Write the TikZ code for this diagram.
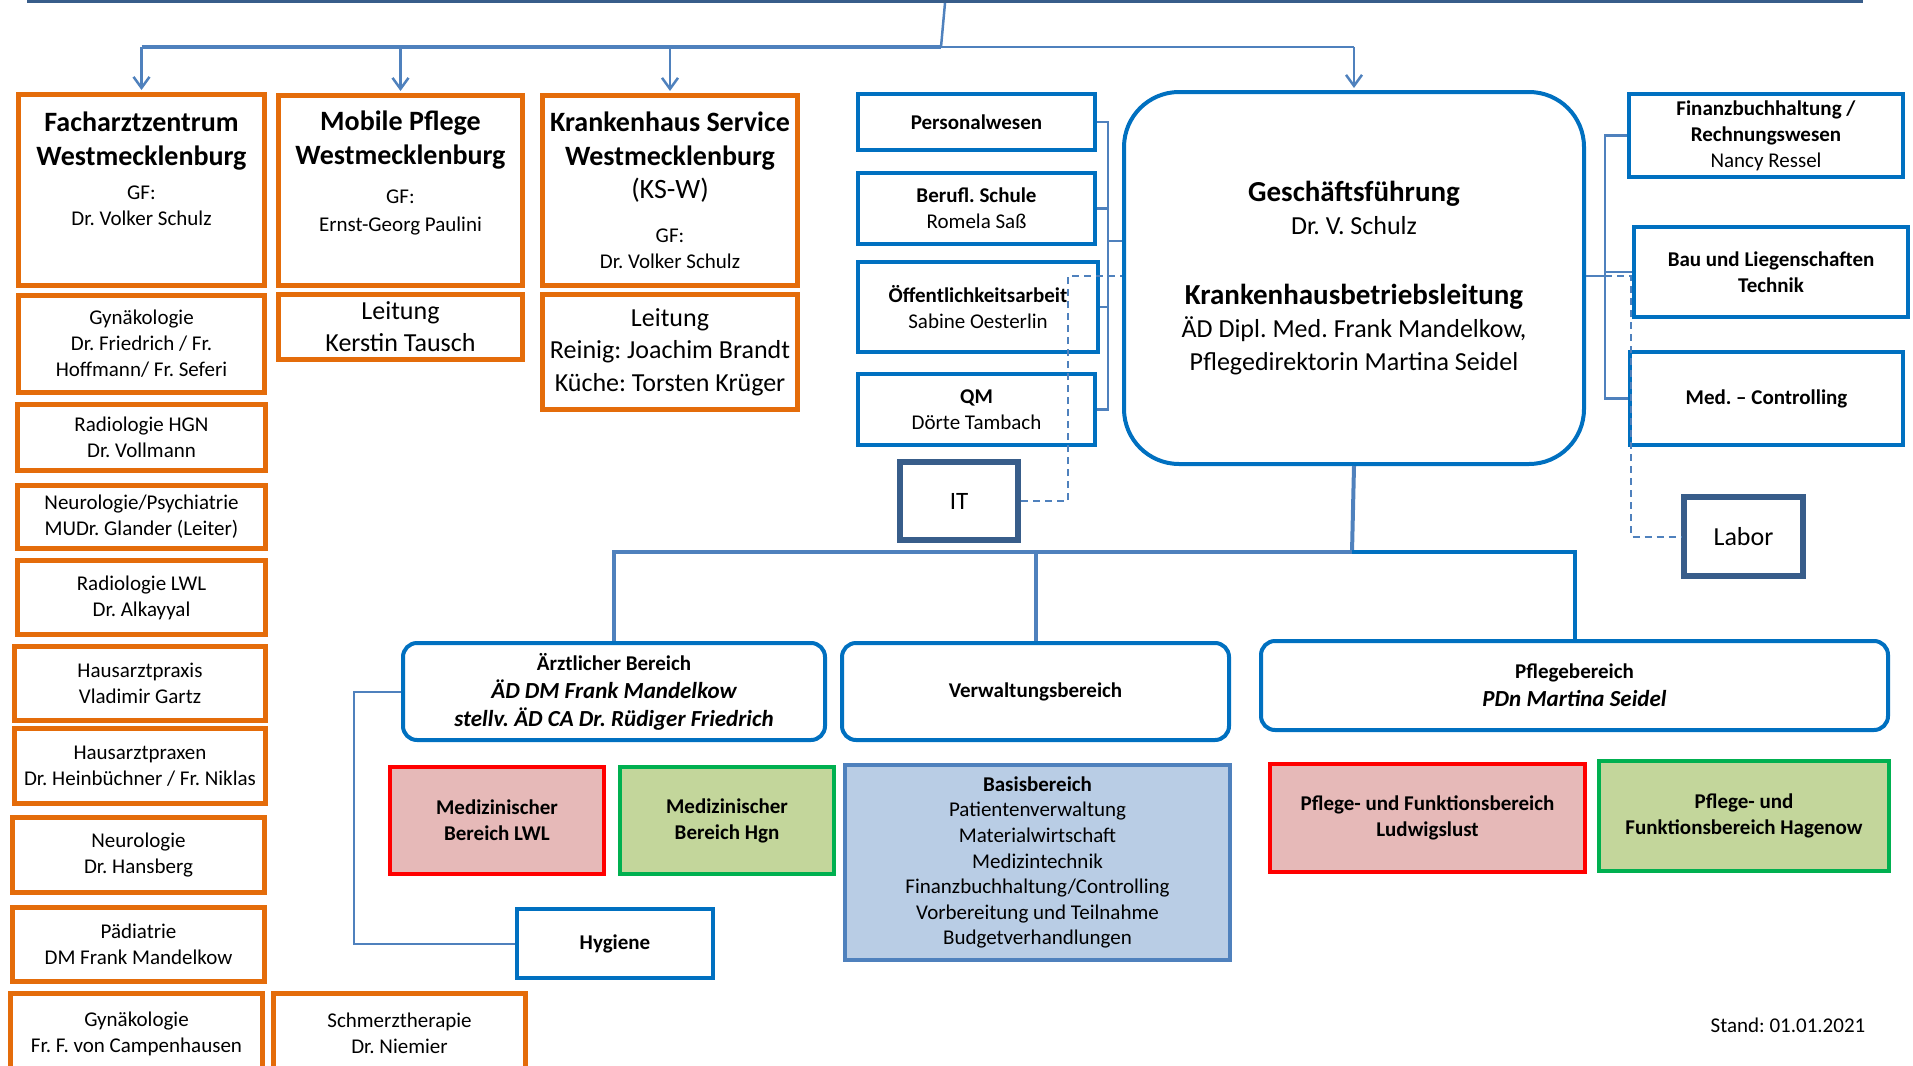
\documentclass[tikz,border=0pt]{standalone}
\usepackage{fontspec}
\setmainfont{Carlito}
\usepackage{tikz}
\usetikzlibrary{arrows.meta, positioning}
\definecolor{orgline}{HTML}{E46C0A}
\definecolor{boxblue}{HTML}{0070C0}
\definecolor{darkblue}{HTML}{385D8A}
\definecolor{linkblue}{HTML}{4F81BD}
\definecolor{redfill}{HTML}{E6B9B8}
\definecolor{greenline}{HTML}{00B050}
\definecolor{greenfill}{HTML}{C3D69B}
\definecolor{basisfill}{HTML}{B9CDE5}
\newcommand{\setpx}[2]{\fontsize{#1}{#2}\selectfont}
\frenchspacing

\begin{document}
\begin{tikzpicture}[x=1pt, y=-1pt, >={Straight Barb[length=11pt,width=16pt]},
  cell/.style={rectangle, anchor=north west, align=center, fill=white, inner sep=1pt, text=black},
  orgbox/.style={cell, draw=orgline, line width=5pt, font=\setpx{21}{26}},
  bluebox/.style={cell, draw=boxblue, line width=4pt, font=\setpx{21}{26}},
  darkbox/.style={cell, draw=darkblue, line width=6pt, font=\setpx{25}{30}},
  roundbox/.style={cell, draw=boxblue, line width=4pt, rounded corners=14pt, font=\setpx{21}{28}},
  redbox/.style={cell, draw=red, fill=redfill, line width=4pt, font=\setpx{21}{26}\bfseries},
  greenbox/.style={cell, draw=greenline, fill=greenfill, line width=4pt, font=\setpx{21}{26}\bfseries},
  link/.style={draw=linkblue, line width=2.5pt},
  dashlink/.style={link, line width=2pt, dash pattern=on 7pt off 5pt}]
\useasboundingbox (0,0) rectangle (1913,1065);

\node[draw=darkblue, line width=8pt, minimum width=1828pt, minimum height=40pt, anchor=south west] (top) at (27,3) {};

\node[orgbox, minimum width=246pt, minimum height=191pt] (fz) at (16,92) {{\setpx{28}{34}\bfseries Facharztzentrum}\\[8pt]{\setpx{28}{34}\bfseries Westmecklenburg}\\[8pt]GF:\\Dr. Volker Schulz\\[16pt]~};
\node[orgbox, minimum width=244pt, minimum height=190pt] (mp) at (276,93) {{\setpx{28}{34}\bfseries Mobile Pflege}\\[8pt]{\setpx{28}{34}\bfseries Westmecklenburg}\\[13pt]GF:\\[2pt]Ernst-Georg Paulini\\[12pt]~};
\node[orgbox, minimum width=255pt, minimum height=190pt] (ks) at (540,93) {{\setpx{28}{34}\bfseries Krankenhaus Service}\\[8pt]{\setpx{28}{34}\bfseries Westmecklenburg}\\[7pt]{\setpx{28}{34}(KS-W)}\\[18pt]GF:\\Dr. Volker Schulz};
\node[orgbox, font=\setpx{26}{32}, minimum width=244pt, minimum height=65pt] (mpl) at (276,292) {Leitung\\Kerstin Tausch};
\node[orgbox, font=\setpx{26}{32.5}, inner sep=0pt, minimum width=255pt, minimum height=115pt] (ksl) at (540,292) {Leitung\\Reinig: Joachim Brandt\\Küche: Torsten Krüger};

\node[orgbox, minimum width=246pt, minimum height=97pt] (gyn) at (16,293) {Gynäkologie\\Dr. Friedrich / Fr.\\Hoffmann/ Fr. Seferi};
\node[orgbox, minimum width=248pt, minimum height=66pt] (radh) at (15,402) {Radiologie HGN\\Dr. Vollmann};
\node[orgbox, minimum width=248pt, minimum height=63pt] (neur) at (15,483) {Neurologie/Psychiatrie\\MUDr. Glander (Leiter)};
\node[orgbox, minimum width=248pt, minimum height=74pt] (radl) at (15,558) {Radiologie LWL\\Dr. Alkayyal};
\node[orgbox, minimum width=251pt, minimum height=74pt] (hp) at (12,644) {Hausarztpraxis\\Vladimir Gartz};
\node[orgbox, minimum width=251pt, minimum height=75pt] (hps) at (12,726) {Hausarztpraxen\\Dr. Heinbüchner / Fr. Niklas};
\node[orgbox, minimum width=252pt, minimum height=75pt] (neu) at (10,815) {Neurologie\\Dr. Hansberg};
\node[orgbox, minimum width=252pt, minimum height=74pt] (paed) at (10,905) {Pädiatrie\\DM Frank Mandelkow};
\node[orgbox, minimum width=252pt, minimum height=80pt] (gyn2) at (8,991) {Gynäkologie\\Fr. F. von Campenhausen};
\node[orgbox, minimum width=252pt, minimum height=80pt] (smz) at (271,991) {Schmerztherapie\\Dr. Niemier};

\node[bluebox, minimum width=237pt, minimum height=56pt] (pw) at (856,92) {\textbf{Personalwesen}};
\node[bluebox, minimum width=237pt, minimum height=71pt] (bs) at (856,171) {\textbf{Berufl. Schule}\\Romela Saß};
\node[bluebox, minimum width=240pt, minimum height=90pt] (oe) at (856,260) {\textbf{Öffentlichkeitsarbeit}\\Sabine Oesterlin};
\node[bluebox, minimum width=237pt, minimum height=71pt] (qm) at (856,372) {\textbf{QM}\\Dörte Tambach};
\node[darkbox, minimum width=118pt, minimum height=78pt] (it) at (897,459) {IT};

\node[roundbox, rounded corners=55pt, font=\setpx{26}{33}, minimum width=460pt, minimum height=372pt] (gf) at (1122,90) {{\setpx{29}{33}\bfseries Geschäftsführung}\\Dr. V. Schulz\\[37pt]{\setpx{29}{33}\bfseries Krankenhausbetriebsleitung}\\ÄD Dipl. Med. Frank Mandelkow,\\Pflegedirektorin Martina Seidel};

\node[bluebox, minimum width=274pt, minimum height=83pt] (fb) at (1627,92) {\textbf{Finanzbuchhaltung /}\\\textbf{Rechnungswesen}\\Nancy Ressel};
\node[bluebox, minimum width=274pt, minimum height=90pt] (bl) at (1632,225) {\textbf{Bau und Liegenschaften}\\\textbf{Technik}};
\node[bluebox, minimum width=273pt, minimum height=93pt] (mc) at (1628,350) {\textbf{Med. -- Controlling}};
\node[darkbox, font=\setpx{26}{30}, minimum width=119pt, minimum height=79pt] (lab) at (1681,494) {Labor};

\node[roundbox, minimum width=422pt, minimum height=97pt] (ae) at (401,641) {\textbf{Ärztlicher Bereich}\\{\setpx{23}{28}\bfseries\itshape ÄD DM Frank Mandelkow}\\{\setpx{23}{28}\bfseries\itshape stellv. ÄD CA Dr. Rüdiger Friedrich}};
\node[roundbox, minimum width=387pt, minimum height=97pt] (vw) at (840,641) {\textbf{Verwaltungsbereich}};
\node[roundbox, minimum width=627pt, minimum height=89pt] (pb) at (1259,639) {\textbf{Pflegebereich}\\{\setpx{23}{28}\bfseries\itshape PDn Martina Seidel}};

\node[redbox, minimum width=214pt, minimum height=107pt] (mlwl) at (388,765) {Medizinischer\\Bereich LWL};
\node[greenbox, minimum width=214pt, minimum height=107pt] (mhgn) at (618,765) {Medizinischer\\Bereich Hgn};
\node[cell, draw=linkblue, fill=basisfill, line width=4pt, font=\setpx{21}{25.6}, minimum width=385pt, minimum height=195pt] (basis) at (843,763) {\textbf{Basisbereich}\\Patientenverwaltung\\Materialwirtschaft\\Medizintechnik\\Finanzbuchhaltung/Controlling\\Vorbereitung und Teilnahme\\Budgetverhandlungen};
\node[bluebox, minimum width=196pt, minimum height=69pt] (hy) at (515,907) {\textbf{Hygiene}};
\node[redbox, minimum width=315pt, minimum height=108pt] (plwl) at (1268,762) {Pflege- und Funktionsbereich\\Ludwigslust};
\node[greenbox, minimum width=290pt, minimum height=110pt] (phag) at (1597,759) {Pflege- und\\Funktionsbereich Hagenow};

\node[font=\setpx{21}{25}] (stand) at (1788,1025) {Stand: 01.01.2021};

\coordinate (hub) at (941,47);
\draw[link] (top.south) -- (hub);
\draw[link, line width=4pt] (fz.north |- hub) -- (hub);
\draw[link] (hub) -- (gf.north |- hub);
\foreach \n in {fz,mp,ks,gf}
  \draw[link, ->, shorten >=2pt] (\n.north |- hub) -- (\n.north);

\coordinate (lb) at (1108,241);
\draw[link] (pw.east) -- (pw.east -| lb) -- (qm.east -| lb) -- (qm.east);
\draw[link] (bs.east) -- (bs.east -| lb);
\draw[link] (oe.east) -- (oe.east -| lb);
\draw[link] (lb) -- (lb -| gf.west);
\coordinate (itk) at (1068,276);
\draw[dashlink] (it.east) -| (itk) -- (itk -| gf.west);

\coordinate (rb) at (1605,276);
\coordinate (lk) at (1631,276);
\draw[link] (gf.east |- rb) -- (rb);
\draw[link] (fb.west) -- (fb.west -| rb) -- (mc.west -| rb) -- (mc.west);
\draw[link] (bl.west) -- (bl.west -| rb);
\draw[dashlink] (rb) -- (lk) |- (lab.west);

\coordinate (bh) at (1352,552);
\draw[link, line width=4pt] (gf.south) -- (bh);
\draw[link, line width=4pt] (ae.north) -- (ae.north |- bh) -- (bh);
\draw[link, draw=boxblue, line width=4pt] (bh) -- (pb.north |- bh) -- (pb.north);
\draw[link, line width=4pt] (vw.north) -- (vw.north |- bh);
\draw[link, line width=2pt] (ae.west) -- ++(-47,0) |- (hy.west);
\end{tikzpicture}
\end{document}
